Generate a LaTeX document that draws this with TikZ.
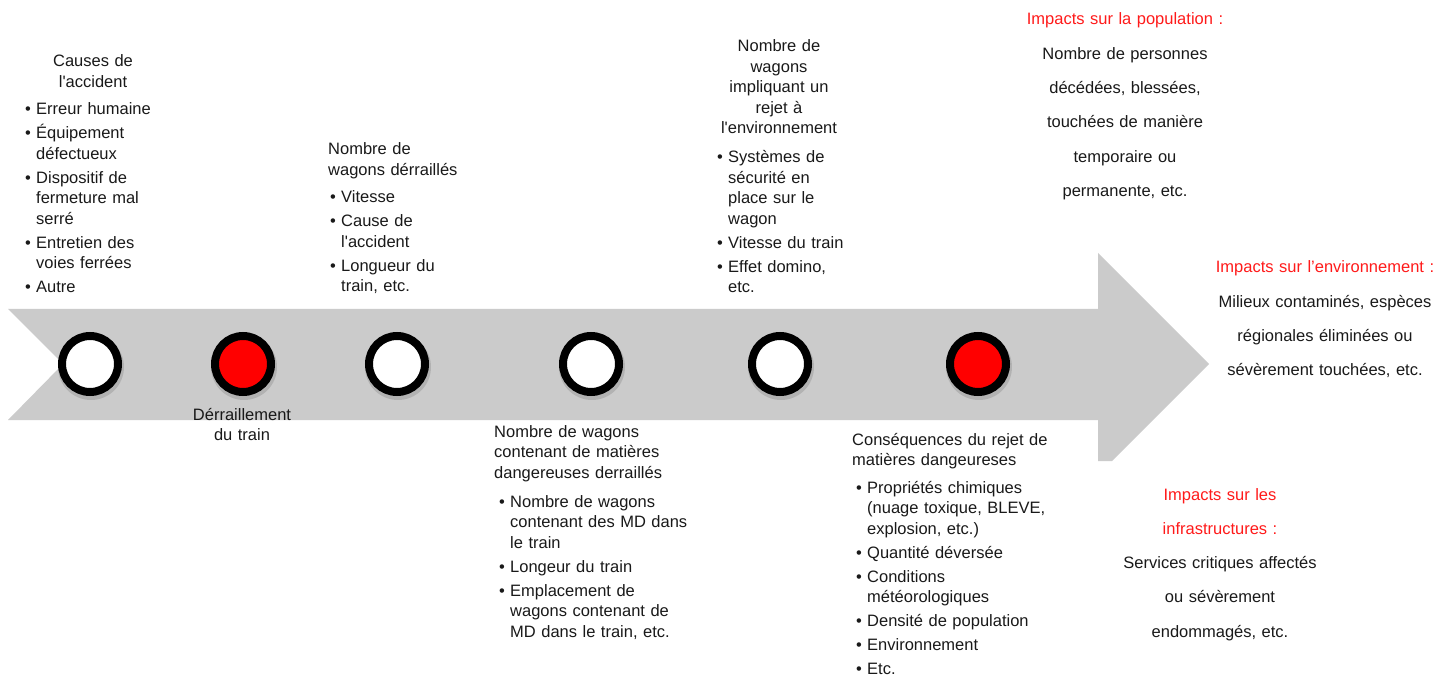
\documentclass[tikz,border=0pt]{standalone}
\usepackage{fontspec}
\newfontfamily\labfont{Liberation Sans}

\definecolor{ArrowGray}{HTML}{CBCBCB}
\definecolor{DotRed}{HTML}{FF0000}
\definecolor{ImpactRed}{HTML}{FF1A1A}

\newcommand\fitem{\hangindent=11pt\hangafter=1\makebox[11pt][l]{•}}
\newcommand\nitem{\par\vskip3.5pt\fitem}

\begin{document}
\begin{tikzpicture}[x=1pt, y=-1pt,
  every node/.style={inner sep=0pt, text=black!90},
  small/.style={font=\labfont\fontsize{16.5}{20.5}\selectfont},
  wide/.style={font=\labfont\fontsize{16.5}{34.3}\selectfont},
  lst/.style={small, text width=#1, align=left, anchor=base west},
  ttl/.style={small, text width=#1, align=center, anchor=base},
  imp/.style={wide, text width=#1, align=center, anchor=base},
  dot/.style={circle, draw=black, line width=8pt, minimum size=56pt}]

\useasboundingbox (0,0) rectangle (1443,676);

% Arrow
\fill[ArrowGray] (8,309) -- (1098,309) -- (1098,253) -- (1209,364)
   -- (1112,461) -- (1098,461) -- (1098,420) -- (8,420) -- (63,364) -- cycle;

% Circles
\foreach \x/\c [count=\i] in {90/white,243/DotRed,397/white,591/white,780/white,978/DotRed}
{
     \fill[black,opacity=0.12] (\x+1,367) circle (33);
     \node[dot, fill=\c] (c\i) at (\x,364) {};
}

% Labels above
\node[ttl=150] (causeT) at (93,67) {Causes de\\l'accident};
\node[lst=150] (causeL) at (25,115) {\fitem Erreur humaine\nitem Équipement\newline défectueux\nitem Dispositif de\newline fermeture mal\newline serré\nitem Entretien des\newline voies ferrées\nitem Autre\par};

\node[lst=150] (derT) at (328,155) {Nombre de\\wagons dérraillés};
\node[lst=150] (derL) at (330,203) {\fitem Vitesse\nitem Cause de\newline l'accident\nitem Longueur du\newline train, etc.\par};

\node[ttl=160] (rejT) at (779,52) {Nombre de\\wagons\\impliquant un\\rejet à\\l'environnement};
\node[lst=160] (rejL) at (717,163) {\fitem Systèmes de\newline sécurité en\newline place sur le\newline wagon\nitem Vitesse du train\nitem Effet domino,\newline etc.\par};

% Labels below
\node[ttl=150] (derail) at (242,420) {Dérraillement\\du train};

\node[lst=220] (mdT) at (494,437) {Nombre de wagons\\contenant de matières\\dangereuses derraillés};
\node[lst=220] (mdL) at (499,507) {\fitem Nombre de wagons\newline contenant des MD dans\newline le train\nitem Longeur du train\nitem Emplacement de\newline wagons contenant de\newline MD dans le train, etc.\par};

\node[lst=220] (conT) at (852,445) {Conséquences du rejet de\\matières dangeureses};
\node[lst=220] (conL) at (856,493) {\fitem Propriétés chimiques\newline (nuage toxique, BLEVE,\newline explosion, etc.)\nitem Quantité déversée\nitem Conditions\newline météorologiques\nitem Densité de population\nitem Environnement\nitem Etc.\par};

% Impacts
\node[imp=260] (pop) at (1125,25) {\textcolor{ImpactRed}{Impacts sur la population :}\\Nombre de personnes\\décédées, blessées,\\touchées de manière\\temporaire ou\\permanente, etc.};
\node[imp=260] (env) at (1325,273) {\textcolor{ImpactRed}{Impacts sur l’environnement :}\\Milieux contaminés, espèces\\régionales éliminées ou\\sévèrement touchées, etc.};
\node[imp=240] (inf) at (1220,500) {\textcolor{ImpactRed}{Impacts sur les}\\\textcolor{ImpactRed}{infrastructures :}\\Services critiques affectés\\ou sévèrement\\endommagés, etc.};

\end{tikzpicture}
\end{document}
